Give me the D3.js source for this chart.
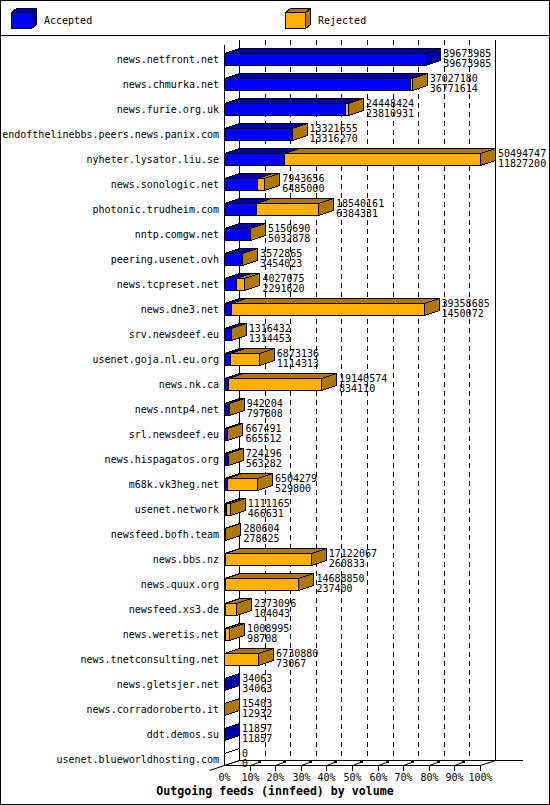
<!DOCTYPE html>
<html><head><meta charset="utf-8">
<script src="https://cdn.jsdelivr.net/npm/d3@7"></script>
<style>
html,body{margin:0;padding:0;background:#fff;}
svg{display:block;}
text{font-family:"DejaVu Sans Mono",monospace;font-size:10px;fill:#000;}
</style></head>
<body>
<svg id="c" width="550" height="805"></svg>
<script>
const categories = [
 "news.netfront.net","news.chmurka.net","news.furie.org.uk","endofthelinebbs.peers.news.panix.com",
 "nyheter.lysator.liu.se","news.sonologic.net","photonic.trudheim.com","nntp.comgw.net",
 "peering.usenet.ovh","news.tcpreset.net","news.dne3.net","srv.newsdeef.eu",
 "usenet.goja.nl.eu.org","news.nk.ca","news.nntp4.net","srl.newsdeef.eu",
 "news.hispagatos.org","m68k.vk3heg.net","usenet.network","newsfeed.bofh.team",
 "news.bbs.nz","news.quux.org","newsfeed.xs3.de","news.weretis.net",
 "news.tnetconsulting.net","news.gletsjer.net","news.corradoroberto.it","ddt.demos.su",
 "usenet.blueworldhosting.com"];
const totals = [39673985,37027180,24448424,13321655,50494747,7943656,18540161,5150690,
 3572865,4027075,39358685,1316432,6873136,19140574,942204,667491,724196,6504279,1111165,
 280604,17122067,14688850,2373096,1008995,6730880,34063,15403,11857,0];
const accepted = [39673985,36771614,23810931,13316270,11827200,6485000,6384331,5032878,
 3454023,2291620,1450072,1314453,1114313,834110,797808,665512,563282,529800,466631,
 278625,260833,237400,104043,98708,73067,34063,12932,11857,0];
const tickValues = [0,0.1,0.2,0.3,0.4,0.5,0.6,0.7,0.8,0.9,1.0];
const tickLabels = ["0%","10%","20%","30%","40%","50%","60%","70%","80%","90%","100%"];
const seriesNames = ["Accepted","Rejected"];
const title = "Outgoing feeds (innfeed) by volume";

const BLUE="#0000ff", DBLUE="#0000a8", ORANGE="#ffb000", BROWN="#b07800";
const DX=15, DY=5;

const svg = d3.select("#c").attr("shape-rendering","crispEdges");
// border
svg.append("rect").attr("x",0.5).attr("y",0.5).attr("width",549).attr("height",804)
  .attr("fill","#fff").attr("stroke","#000");
svg.append("line").attr("x1",0).attr("x2",550).attr("y1",35.5).attr("y2",35.5).attr("stroke","#000");

// legend
const legendX=[11,285], legendFront=[BLUE,ORANGE], legendSide=[DBLUE,BROWN];
seriesNames.forEach((n,i)=>{
  const x0=legendX[i]+0.5, y0=12.5, w=20, h=16, dx=5, dy=4;
  const g=svg.append("g");
  g.append("polygon").attr("points",[[x0,y0],[x0+dx,y0-dy],[x0+w+dx,y0-dy],[x0+w,y0]].join(" "))
    .attr("fill",legendSide[i]).attr("stroke","#000");
  g.append("polygon").attr("points",[[x0+w,y0],[x0+w+dx,y0-dy],[x0+w+dx,y0+h-dy],[x0+w,y0+h]].join(" "))
    .attr("fill",legendSide[i]).attr("stroke","#000");
  g.append("rect").attr("x",x0).attr("y",y0).attr("width",w).attr("height",h)
    .attr("fill",legendFront[i]).attr("stroke","#000");
  g.append("text").attr("x",legendX[i]+33).attr("y",24).text(n);
});

const x = d3.scaleLinear().domain([0,d3.max(totals)]).range([224,480]);
const y = d3.scalePoint().domain(categories).range([59,759]);
const yTop=40, yBot=760; // back plane

// back grid
const grid = svg.append("g");
tickValues.forEach((t,i)=>{
  const bx = Math.round(x(t*d3.max(totals)))+DX+0.5;
  if(i===0||i===tickValues.length-1){
    grid.append("line").attr("x1",bx).attr("x2",bx).attr("y1",yTop).attr("y2",yBot+0.5).attr("stroke","#000");
  } else {
    grid.append("line").attr("x1",bx).attr("x2",bx).attr("y1",yTop).attr("y2",yBot).attr("stroke","#000")
      .attr("stroke-dasharray","5,4");
  }
});
// back floor line
grid.append("line").attr("x1",x(0)+DX).attr("x2",523).attr("y1",yBot+0.5).attr("y2",yBot+0.5).attr("stroke","#000");
// front left axis
grid.append("line").attr("x1",x(0)+0.5).attr("x2",x(0)+0.5).attr("y1",45).attr("y2",765.5).attr("stroke","#000");

// bars
const bars = svg.append("g");
categories.forEach((c,i)=>{
  const yc=y(c), top=Math.round(yc-6)+0.5, bot=Math.round(yc+6)+0.5;
  const x0=x(0)+0.5, xa=Math.round(x(accepted[i]))+0.5, xt=Math.round(x(totals[i]))+0.5;
  const rej = totals[i]-accepted[i];
  // top faces
  if(accepted[i]>0 && xa>x0)
    bars.append("polygon").attr("points",[[x0,top],[x0+DX,top-DY],[xa+DX,top-DY],[xa,top]].join(" "))
      .attr("fill",DBLUE).attr("stroke","#000");
  if(rej>0 && xt>xa)
    bars.append("polygon").attr("points",[[xa,top],[xa+DX,top-DY],[xt+DX,top-DY],[xt,top]].join(" "))
      .attr("fill",BROWN).attr("stroke","#000");
  // side
  const sideCol = rej>0 ? BROWN : (accepted[i]>0 ? DBLUE : "#fff");
  bars.append("polygon").attr("points",[[xt,top],[xt+DX,top-DY],[xt+DX,bot-DY],[xt,bot]].join(" "))
    .attr("fill",sideCol).attr("stroke","#000");
  // fronts
  if(xa>x0)
    bars.append("rect").attr("x",x0).attr("y",top).attr("width",xa-x0).attr("height",bot-top)
      .attr("fill",BLUE).attr("stroke","#000");
  if(xt>xa)
    bars.append("rect").attr("x",xa).attr("y",top).attr("width",xt-xa).attr("height",bot-top)
      .attr("fill",ORANGE).attr("stroke","#000");
  // labels
  svg.append("text").attr("x",219).attr("y",yc+4).attr("text-anchor","end").text(c);
  const tx = x(totals[i])+DX+3;
  svg.append("text").attr("x",tx).attr("y",yc-2.5).text(totals[i]);
  svg.append("text").attr("x",tx).attr("y",yc+7.5).text(accepted[i]);
});

// front floor + ticks
const ax = svg.append("g");
ax.append("line").attr("x1",x(0)).attr("x2",x(d3.max(totals))+0.5).attr("y1",765.5).attr("y2",765.5).attr("stroke","#000");
ax.append("line").attr("x1",x(d3.max(totals))+0.5).attr("y1",765.5).attr("x2",x(d3.max(totals))+DX+0.5).attr("y2",760.5)
  .attr("stroke","#000").attr("shape-rendering","auto");
ax.append("line").attr("x1",x(0)-DX+0.5).attr("y1",770.5).attr("x2",x(0)+DX+0.5).attr("y2",760.5)
  .attr("stroke","#000").attr("shape-rendering","auto");
tickValues.forEach((t,i)=>{
  const fx = Math.round(x(t*d3.max(totals)))+0.5;
  if(i>0){
    ax.append("line").attr("x1",fx).attr("x2",fx).attr("y1",765).attr("y2",770.5).attr("stroke","#000");
    if(i<tickValues.length-1){
      ax.append("line").attr("x1",fx).attr("y1",765.5).attr("x2",fx+8).attr("y2",762.5).attr("stroke","#000").attr("shape-rendering","auto");
      ax.append("rect").attr("x",fx+7.5).attr("y",760).attr("width",3).attr("height",2.5).attr("fill","#000");
    }
  }
  ax.append("text").attr("x",fx).attr("y",781).attr("text-anchor","middle").text(tickLabels[i]);
});

svg.append("text").attr("x",275).attr("y",795).attr("text-anchor","middle")
  .style("font-weight","bold").style("font-size","11.6px").text(title);
</script>
</body></html>
